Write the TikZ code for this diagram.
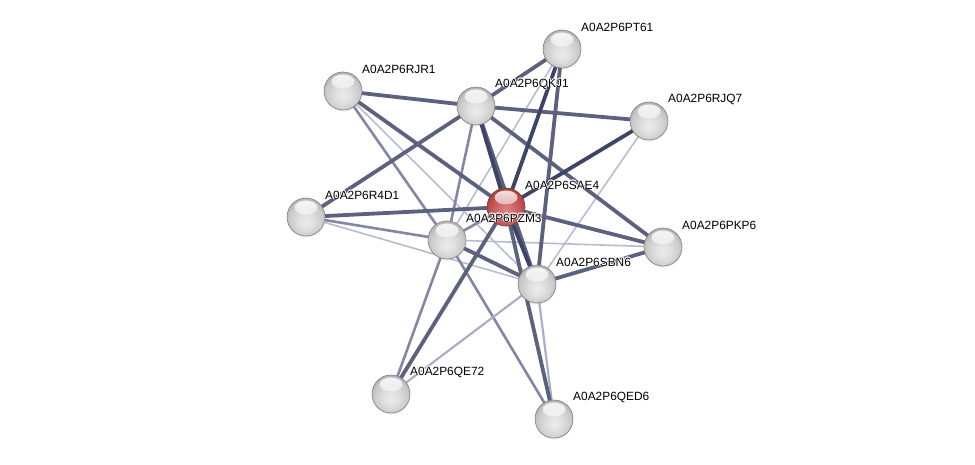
\documentclass[tikz,border=0pt]{standalone}
\usepackage{fontspec}
\setmainfont{Liberation Sans}
\usetikzlibrary{shadows,fadings}
\definecolor{gb0}{RGB}{236,236,236}
\definecolor{gb1}{RGB}{224,224,224}
\definecolor{gb2}{RGB}{202,202,202}
\definecolor{gb3}{RGB}{168,168,168}
\definecolor{gb4}{RGB}{120,120,120}
\definecolor{rb0}{RGB}{222,140,140}
\definecolor{rb1}{RGB}{208,110,110}
\definecolor{rb2}{RGB}{190,78,78}
\definecolor{rb3}{RGB}{160,52,52}
\definecolor{rb4}{RGB}{110,30,30}
\pgfdeclareradialshading{greyball}{\pgfpoint{0bp}{-7bp}}{color(0bp)=(gb0); color(10bp)=(gb1); color(22bp)=(gb2); color(31bp)=(gb3); color(38bp)=(gb4); color(50bp)=(gb4)}
\pgfdeclareradialshading{redball}{\pgfpoint{0bp}{-7bp}}{color(0bp)=(rb0); color(10bp)=(rb1); color(22bp)=(rb2); color(31bp)=(rb3); color(38bp)=(rb4); color(50bp)=(rb4)}
\definecolor{edgenavy}{RGB}{62,68,102}
\definecolor{edgedark}{RGB}{92,98,126}
\definecolor{edgemid}{RGB}{130,136,163}
\definecolor{edgelight}{RGB}{184,188,208}
\tikzset{
  ballnode/.style={circle, minimum size=38pt, inner sep=0pt, draw=black!50, line width=0.6pt, shading=greyball,
    circular drop shadow={shadow xshift=0pt, shadow yshift=-1.5pt, opacity=0.25, shadow scale=1.02},
    path picture={\fill[white, fill opacity=0.9, path fading=south] ([yshift=9.5pt]path picture bounding box.center) ellipse (11.5pt and 7pt);}},
  rednode/.style={ballnode, shading=redball, draw=red!30!black!75},
  navyedge/.style={draw=edgenavy, line width=3.8pt},
  thickedge/.style={draw=edgedark, line width=3.8pt},
  midedge/.style={draw=edgemid, line width=2.6pt},
  softedge/.style={draw=edgelight!75!edgemid, line width=2.2pt},
  thinedge/.style={draw=edgelight, line width=1.6pt},
  lab/.style={anchor=west, inner sep=0pt, font=\fontsize{11.9}{13}\selectfont},
}
\newcommand\lbl[3]{%
  \foreach \dx/\dy in {0.8/0,-0.8/0,0/0.8,0/-0.8,0.6/0.6,-0.6/0.6,0.6/-0.6,-0.6/-0.6}
    \node[lab, text=white, xshift=\dx pt, yshift=\dy pt] at ([shift={(19,-22)}]#1.center) {#3};
  \node[lab, text=black] (#2) at ([shift={(19,-22)}]#1.center) {#3};
}
\begin{document}
\begin{tikzpicture}[x=1pt,y=-1pt]
\useasboundingbox (0,0) rectangle (975,465);
% node coordinates
\coordinate (cPT61) at (562,49);
\coordinate (cRJR1) at (343,91);
\coordinate (cQKJ1) at (476,106);
\coordinate (cRJQ7) at (649,121);
\coordinate (cSAE4) at (506,207);
\coordinate (cR4D1) at (306,217);
\coordinate (cPZM3) at (447,240);
\coordinate (cPKP6) at (663,247);
\coordinate (cSBN6) at (537,284);
\coordinate (cQE72) at (391,394);
\coordinate (cQED6) at (554,419);
% thin light edges
\draw[thinedge] (cRJR1) -- (cSBN6);
\draw[thinedge] (cPT61) -- (cPZM3);
\draw[thinedge] (cRJQ7) -- (cSBN6);
\draw[thinedge] (cR4D1) -- (cSBN6);
\draw[thinedge] (cPZM3) -- (cPKP6);
% medium edges
\draw[midedge] (cQKJ1) -- (cPZM3);
\draw[midedge] (cRJR1) -- (cPZM3);
\draw[midedge] (cPZM3) -- (cQED6);
\draw[midedge] (cR4D1) -- (cPZM3);
\draw[midedge] (cPZM3) -- (cSAE4);
\draw[midedge] (cPZM3) -- (cQE72);
\draw[softedge] (cSBN6) -- (cQE72);
\draw[softedge] (cSBN6) -- (cQED6);
% thick edges
\draw[thickedge] (cRJR1) -- (cQKJ1);
\draw[thickedge] (cQKJ1) -- (cRJQ7);
\draw[thickedge] (cRJR1) -- (cSAE4);
\draw[thickedge] (cQKJ1) -- (cR4D1);
\draw[thickedge] (cQKJ1) -- (cPKP6);
\draw[thickedge] (cQKJ1) -- (cPT61);
\draw[thickedge] (cQKJ1) -- (cSBN6);
\draw[thickedge] (cPT61) -- (cSBN6);
\draw[thickedge] (cR4D1) -- (cSAE4);
\draw[thickedge] (cSAE4) -- (cPKP6);
\draw[thickedge] (cSBN6) -- (cPKP6);
\draw[thickedge] (cPZM3) -- (cSBN6);
\draw[thickedge] (cSAE4) -- (cQE72);
\draw[thickedge] (cSAE4) -- (cQED6);
\draw[navyedge] (cQKJ1) -- (cSAE4);
\draw[navyedge] (cPT61) -- (cSAE4);
\draw[navyedge] (cRJQ7) -- (cSAE4);
\draw[navyedge] (cSAE4) -- (cSBN6);
% nodes
\node[ballnode] (PT61) at (cPT61) {};
\node[ballnode] (RJR1) at (cRJR1) {};
\node[ballnode] (QKJ1) at (cQKJ1) {};
\node[ballnode] (RJQ7) at (cRJQ7) {};
\node[rednode]  (SAE4) at (cSAE4) {};
\node[ballnode] (R4D1) at (cR4D1) {};
\node[ballnode] (PZM3) at (cPZM3) {};
\node[ballnode] (PKP6) at (cPKP6) {};
\node[ballnode] (SBN6) at (cSBN6) {};
\node[ballnode] (QE72) at (cQE72) {};
\node[ballnode] (QED6) at (cQED6) {};
% labels
\lbl{PT61}{lPT61}{A0A2P6PT61}
\lbl{RJR1}{lRJR1}{A0A2P6RJR1}
\lbl{QKJ1}{lQKJ1}{A0A2P6QKJ1}
\lbl{RJQ7}{lRJQ7}{A0A2P6RJQ7}
\lbl{SAE4}{lSAE4}{A0A2P6SAE4}
\lbl{R4D1}{lR4D1}{A0A2P6R4D1}
\lbl{PZM3}{lPZM3}{A0A2P6PZM3}
\lbl{PKP6}{lPKP6}{A0A2P6PKP6}
\lbl{SBN6}{lSBN6}{A0A2P6SBN6}
\lbl{QE72}{lQE72}{A0A2P6QE72}
\lbl{QED6}{lQED6}{A0A2P6QED6}
\end{tikzpicture}
\end{document}
